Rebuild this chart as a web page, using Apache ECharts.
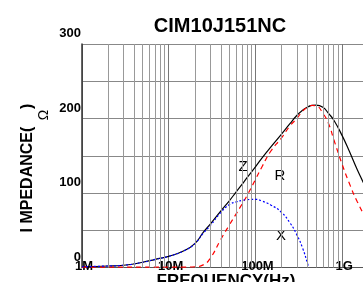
<!DOCTYPE html>
<html>
<head>
<meta charset="utf-8">
<script src="https://cdn.jsdelivr.net/npm/echarts@6/dist/echarts.min.js"></script>
<style>
html,body{margin:0;padding:0;background:#fff;}
#graph{width:363px;height:282px;}
</style>
</head>
<body>
<div id="graph"></div>
<script>
// frequency (Hz) and impedance values (ohm)
var freq = [1e6, 2e6, 3e6, 5e6, 7e6, 1e7, 1.5e7, 2e7, 2.5e7, 3e7, 4e7, 5e7, 6e7, 7e7, 8e7,
    1e8, 1.2e8, 1.5e8, 2e8, 2.5e8, 3e8, 3.5e8, 4e8, 4.1e8, 4.5e8, 5e8, 6e8, 7e8, 8e8,
    1e9, 1.2e9, 1.5e9, 2e9, 3e9];
var zVal = [1, 2, 3, 7, 11, 15, 22.5, 32, 47, 58, 76, 89.5, 101.5, 111.5, 120.5,
    135, 147.5, 161.5, 179, 193, 204, 211, 215.5, 216, 217.8, 218, 215, 206.5, 198,
    177, 157, 131, 102, 72];
var rVal = [0.5, 0.5, 0.5, 0.5, 0.5, 0.5, 0.6, 1, 3.5, 12, 38, 57, 72, 85, 96.5,
    118, 136, 156, 174, 190, 200, 210, 215.5, 216, 217.5, 217, 207, 192.5, 172,
    138.5, 114, 88, 62, 35];
var xVal = [1, 2, 3, 7, 11, 15, 22.5, 32, 46, 56, 74, 84.5, 88, 90, 91,
    91.5, 89, 84, 74, 60, 44, 26, 5, 0, null, null, null, null, null,
    null, null, null, null, null];
var decadeLabels = {6: '1M', 7: '10M', 8: '100M', 9: '1G'};
var freqMax = 1.74e9; // the picture is cut off a little past 1G
var minorGrid = [];
for (var d = 6; d <= 9; d++) {
    for (var m = 2; m <= 9; m++) {
        minorGrid.push(m * Math.pow(10, d));
    }
}

function pairs(vals) {
    var out = [];
    for (var i = 0; i < freq.length; i++) {
        if (vals[i] !== null) out.push([freq[i], vals[i]]);
    }
    return out;
}

function draw() {
    var dom = document.getElementById("graph");
    var myChart = echarts.init(dom, null, {renderer: 'canvas'});
    var gridLines = [];
    for (var i = 0; i < minorGrid.length; i++) {
        if (minorGrid[i] < freqMax) gridLines.push({xAxis: minorGrid[i]});
    }
    var font = 'Liberation Sans, Arial, sans-serif';
    var option = {
        animation: false,
        textStyle: {fontFamily: font},
        grid: {left: 82, top: 44, bottom: 14.5, right: 0},
        xAxis: {
            type: 'log',
            logBase: 10,
            min: 1e6,
            max: freqMax,
            axisLine: {lineStyle: {color: '#555', width: 1}},
            axisTick: {show: false},
            splitLine: {show: true, lineStyle: {color: '#777', width: 1}},
            axisLabel: {
                margin: -8,
                color: '#000',
                fontWeight: 'bold',
                fontSize: 13,
                fontFamily: font,
                showMaxLabel: false,
                padding: [0, 0, 0, 4],
                formatter: function (v) {
                    var e = Math.round(Math.log(v) / Math.LN10);
                    if (Math.abs(Math.pow(10, e) - v) / v > 1e-6) return '';
                    return decadeLabels[e] || '';
                }
            }
        },
        yAxis: {
            type: 'value',
            min: 0,
            max: 300,
            interval: 50,
            axisLine: {show: true, lineStyle: {color: '#333', width: 1.5}},
            axisTick: {show: false},
            splitLine: {lineStyle: {color: '#888', width: 1}},
            axisLabel: {
                margin: 1,
                color: '#000',
                fontWeight: 'bold',
                fontSize: 13,
                fontFamily: font,
                verticalAlign: 'bottom',
                padding: [0, 0, 4, 0],
                formatter: function (v) {
                    return v % 100 === 0 ? String(v) : '';
                }
            }
        },
        graphic: [
            {type: 'text', x: 220, y: 26, style: {text: 'CIM10J151NC', font: 'bold 20px ' + font, fill: '#000', align: 'center', verticalAlign: 'middle'}},
            {type: 'text', x: 28, y: 168, rotation: Math.PI / 2, style: {text: 'I MPEDANCE(    )', font: 'bold 16px ' + font, fill: '#000', align: 'center', verticalAlign: 'middle'}},
            {type: 'text', x: 44, y: 115, rotation: Math.PI / 2, style: {text: 'Ω', font: '14px ' + font, fill: '#000', align: 'center', verticalAlign: 'middle'}},
            {type: 'text', x: 226, y: 281, style: {text: 'FREQUENCY(Hz)', font: 'bold 17px ' + font, fill: '#000', align: 'center', verticalAlign: 'middle'}},
            {type: 'text', x: 243, y: 167, style: {text: 'Z', font: '15px ' + font, fill: '#000', align: 'center', verticalAlign: 'middle'}},
            {type: 'text', x: 280, y: 176, style: {text: 'R', font: '15px ' + font, fill: '#000', align: 'center', verticalAlign: 'middle'}},
            {type: 'text', x: 281, y: 236, style: {text: 'X', font: '15px ' + font, fill: '#000', align: 'center', verticalAlign: 'middle'}}
        ],
        series: [
            {
                name: 'grid',
                type: 'line',
                data: [],
                markLine: {
                    silent: true,
                    symbol: 'none',
                    label: {show: false},
                    lineStyle: {color: '#999', width: 1, type: 'solid'},
                    data: gridLines
                }
            },
            {
                name: 'Z',
                type: 'line',
                data: pairs(zVal),
                smooth: true,
                showSymbol: false,
                lineStyle: {color: '#000', width: 1.2}
            },
            {
                name: 'R',
                type: 'line',
                data: pairs(rVal),
                smooth: true,
                showSymbol: false,
                lineStyle: {color: '#f00', width: 1.2, type: [5, 4]}
            },
            {
                name: 'X',
                type: 'line',
                data: pairs(xVal),
                smooth: true,
                showSymbol: false,
                lineStyle: {color: '#00f', width: 1.2, type: [2, 2]}
            }
        ]
    };
    if (option && typeof option === "object") {
        myChart.setOption(option, true);
    }
}

draw();
</script>
</body>
</html>
